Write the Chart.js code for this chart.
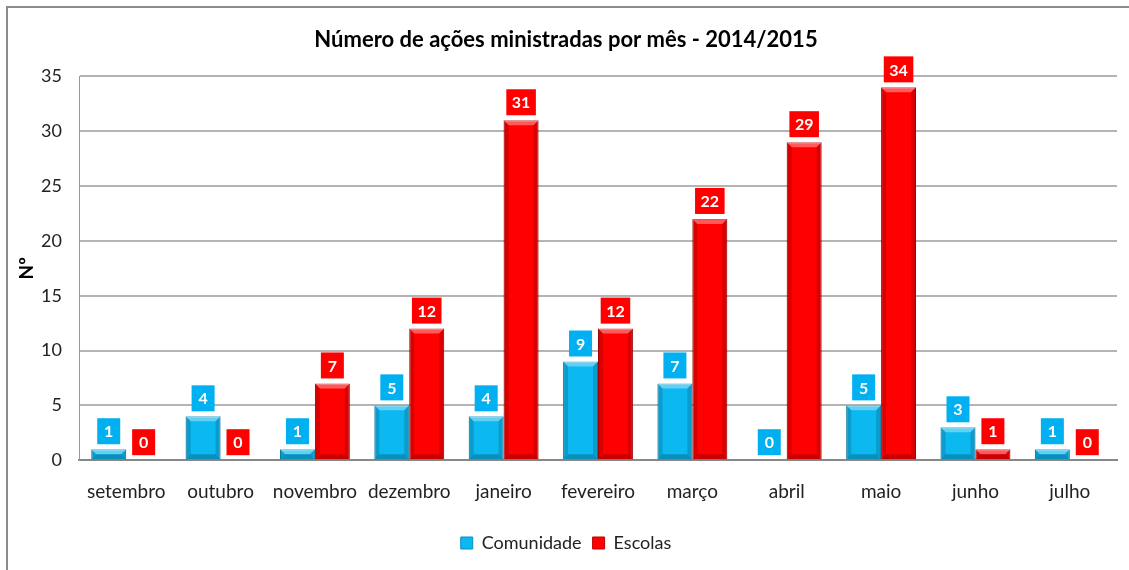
<!DOCTYPE html>
<html><head><meta charset="utf-8">
<script src="https://cdn.jsdelivr.net/npm/chart.js@4"></script>
<style>
html,body{margin:0;padding:0;background:#fff;overflow:hidden;width:1129px;height:570px;}
#wrap{position:relative;width:1129px;height:570px;}
#frame{position:absolute;left:6px;top:6px;width:2000px;height:2000px;border:2px solid #8c8c8c;pointer-events:none;}
canvas{position:absolute;left:0;top:0;}
</style></head>
<body><div id="wrap"><canvas id="c" width="1129" height="570"></canvas><div id="frame"></div></div>
<script>
const categories = ['setembro','outubro','novembro','dezembro','janeiro','fevereiro','março','abril','maio','junho','julho'];
const comunidade = [1,4,1,5,4,9,7,0,5,3,1];
const escolas = [0,0,7,12,31,12,22,29,34,1,0];
const yTicks = [0,5,10,15,20,25,30,35];
const FONT = 'Lato, "Open Sans", sans-serif';

const bevel = {
  id:'bevel',
  afterDatasetsDraw(chart){
    const ctx = chart.ctx;
    chart.data.datasets.forEach((ds,di)=>{
      const meta = chart.getDatasetMeta(di);
      meta.data.forEach((el,i)=>{
        const p = el.getProps(['x','y','base','width'],true);
        const h = p.base - p.y;
        if (h < 1) return;
        const l = p.x - p.width/2, r = p.x + p.width/2;
        const b = Math.min(5, h/2);
        ctx.save();
        ctx.fillStyle = 'rgba(255,255,255,0.35)';
        ctx.beginPath();ctx.moveTo(l,p.y);ctx.lineTo(r,p.y);ctx.lineTo(r-b,p.y+b);ctx.lineTo(l+b,p.y+b);ctx.closePath();ctx.fill();
        ctx.fillStyle = 'rgba(0,0,0,0.15)';
        ctx.beginPath();ctx.moveTo(l,p.y);ctx.lineTo(l+b,p.y+b);ctx.lineTo(l+b,p.base-b);ctx.lineTo(l,p.base);ctx.closePath();ctx.fill();
        ctx.beginPath();ctx.moveTo(r,p.y);ctx.lineTo(r-b,p.y+b);ctx.lineTo(r-b,p.base-b);ctx.lineTo(r,p.base);ctx.closePath();ctx.fill();
        ctx.fillStyle = 'rgba(0,0,0,0.22)';
        ctx.beginPath();ctx.moveTo(l,p.base);ctx.lineTo(l+b,p.base-b);ctx.lineTo(r-b,p.base-b);ctx.lineTo(r,p.base);ctx.closePath();ctx.fill();
        ctx.restore();
      });
    });
  }
};

const labels = {
  id:'boxLabels',
  afterDatasetsDraw(chart){
    const ctx = chart.ctx;
    chart.data.datasets.forEach((ds,di)=>{
      const meta = chart.getDatasetMeta(di);
      meta.data.forEach((el,i)=>{
        const p = el.getProps(['x','y'],true);
        const txt = String(ds.data[i]);
        ctx.save();
        ctx.font = 'bold 16px ' + FONT;
        const w = Math.max(ctx.measureText(txt).width + 11, 23);
        const h = 26;
        const bx = p.x - w/2, by = p.y - 5 - h;
        ctx.fillStyle = ds.labelColor;
        ctx.fillRect(bx,by,w,h);
        ctx.fillStyle = '#fff';
        ctx.textAlign = 'center';ctx.textBaseline='middle';
        ctx.fillText(txt,p.x,by+h/2+1);
        ctx.restore();
      });
    });
  }
};

new Chart(document.getElementById('c'),{
  type:'bar',
  data:{labels:categories,datasets:[
    {label:'Comunidade',data:comunidade,backgroundColor:'#0CB8F0',borderColor:'#0A8FBF',borderWidth:1,labelColor:'#00B0F0',categoryPercentage:0.74,barPercentage:1},
    {label:'Escolas',data:escolas,backgroundColor:'#FF0000',borderColor:'#C00000',borderWidth:1,labelColor:'#FF0000',categoryPercentage:0.74,barPercentage:1}
  ]},
  options:{
    responsive:false,animation:false,
    layout:{padding:{left:15,right:12,top:12,bottom:8}},
    plugins:{
      title:{display:true,text:'Número de ações ministradas por mês - 2014/2015',color:'#000',font:{family:FONT,size:22,weight:'bold'},padding:{top:15,bottom:23}},
      legend:{position:'bottom',labels:{color:'#222',font:{family:FONT,size:18},boxWidth:12,boxHeight:12,padding:11}},
      tooltip:{enabled:false}
    },
    scales:{
      x:{grid:{display:false,drawTicks:false},border:{color:'#888',width:2},ticks:{color:'#222',font:{family:FONT,size:19},padding:20}},
      y:{min:0,max:35,afterBuildTicks(s){s.ticks=yTicks.map(v=>({value:v}));},
         afterFit(s){s.width = 79 - 15;},
         grid:{color:'#b4b4b4',lineWidth:2,drawTicks:false},border:{color:'#999',width:1},
         ticks:{color:'#222',font:{family:FONT,size:18},padding:17},
         title:{display:true,text:'Nº',color:'#000',font:{family:FONT,size:19,weight:'bold'},padding:{top:0,bottom:0}}}
    }
  },
  plugins:[bevel,labels]
});
</script></body></html>
